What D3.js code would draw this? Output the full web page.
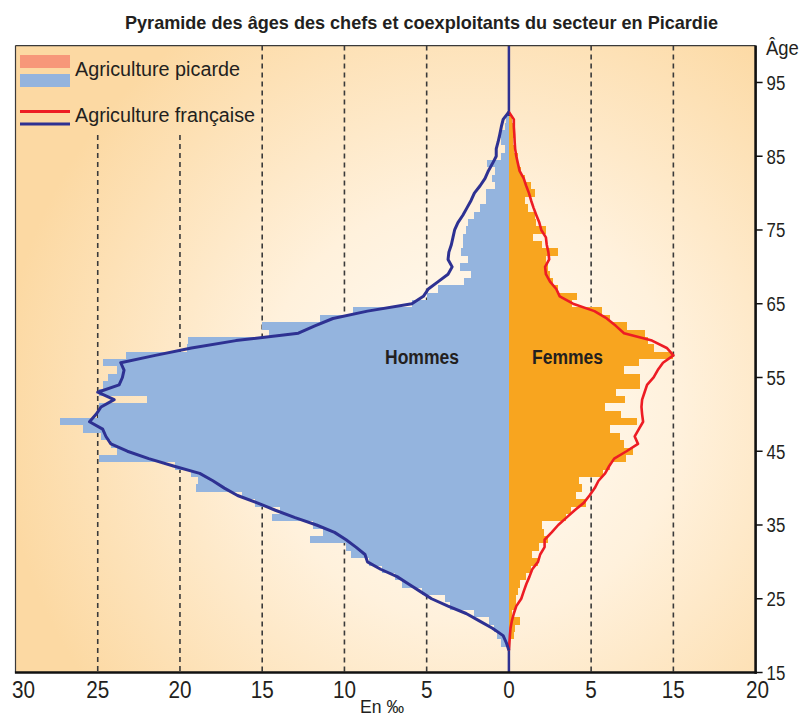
<!DOCTYPE html>
<html><head><meta charset="utf-8">
<script src="https://cdn.jsdelivr.net/npm/d3@7"></script>
<style>
body{margin:0;background:#fff;}
svg{display:block;}
text{font-family:"Liberation Sans",Arial,Helvetica,sans-serif;fill:#231f20;}
</style>
</head><body>
<svg id="chart" width="801" height="718"></svg>
<script>
// ---------- DATA ----------
const barAges = [19,20,21,22,23,24,25,26,27,28,29,30,31,32,33,34,35,36,37,38,39,40,41,42,43,44,45,46,47,48,49,50,51,52,53,54,55,56,57,58,59,60,61,62,63,64,65,66,67,68,69,70,71,72,73,74,75,76,77,78,79,80,81,82,83,84,85,86,87,88,89,90];
const hommesPicardie = [0.5,0.75,0.9,1.2,2.1,3.6,3.9,5.3,6.5,6.9,7.7,8.5,9.6,9.9,12.1,11.3,11.9,14.4,13.9,15.45,16.2,19.0,18.9,19.3,20.3,24.9,23.8,24.2,24.8,25.9,27.3,25.0,24.9,22.0,24.9,24.7,24.4,23.8,24.7,23.3,19.6,19.5,14.6,15.0,11.5,9.5,5.9,5.0,4.3,2.7,2.3,3.0,2.5,2.9,2.8,2.8,2.6,2.5,2.1,1.75,1.4,1.4,0.85,1.05,0.85,1.35,0.45,0.25,0.5,0.6,0.25,0.15];
const femmesPicardie = [0,0.3,0.35,0.65,0.2,0.45,0.45,0.55,0.7,1.06,1.36,1.77,1.4,1.83,2.4,2.13,2.0,3.49,3.8,4.71,4.06,4.47,4.24,5.72,6.13,7.15,7.55,6.98,6.78,6.17,7.8,6.84,5.83,7.05,6.5,7.95,7.95,6.98,7.9,9.99,8.83,8.46,8.3,7.2,6.13,5.68,3.86,4.16,2.98,2.68,2.5,2.37,2.23,3.0,2.03,1.46,2.28,1.67,1.56,1.16,0.96,1.6,1.36,1.0,0.75,0.55,0.55,0.3,0.25,0.3,0.25,0.2];

const lineAges = [18,19,20,21,22,23,24,25,26,27,28,29,30,31,32,33,34,35,36,37,38,39,40,41,42,43,44,45,46,47,48,49,50,51,52,53,54,55,56,57,58,59,60,61,62,63,64,65,66,67,68,69,70,71,72,73,74,75,76,77,78,79,80,81,82,83,84,85,86,87,88,89,90,91];
const hommesFrance = [0,0.15,0.35,1.0,1.8,2.6,3.7,4.7,5.4,6.1,6.8,7.8,8.6,8.75,9.3,9.9,10.6,11.7,13.0,14.2,15.3,16.5,17.3,18.0,18.8,20.4,21.9,23.2,24.2,24.5,24.7,25.5,25.1,24.8,24.0,25.0,23.7,23.5,23.4,23.6,21.5,19.3,16.6,12.8,11.8,10.7,8.6,5.9,5.2,4.9,4.3,3.7,3.45,3.7,3.65,3.5,3.4,3.3,3.1,2.8,2.55,2.3,2.1,1.75,1.45,1.25,1.0,0.77,0.77,0.65,0.55,0.46,0.35,0];
const femmesFrance = [0,0.03,0.06,0.1,0.18,0.3,0.45,0.75,0.9,1.06,1.25,1.42,1.77,1.9,2.17,2.17,2.6,3.0,3.5,4.0,4.55,4.9,5.22,5.45,5.85,6.1,6.4,7.15,7.85,7.65,7.9,8.16,8.1,8.06,8.1,8.25,8.4,8.8,9.05,9.37,10.0,9.6,8.7,7.0,6.5,5.95,5.2,3.9,3.09,2.88,2.5,2.25,2.2,2.45,2.4,2.3,2.25,1.97,1.85,1.67,1.5,1.35,1.22,1.05,0.9,0.65,0.55,0.45,0.38,0.35,0.33,0.3,0.3,0];

const xTickValues = [-30,-25,-20,-15,-10,-5,0,5,10,15];
const xTickLabels = ["30","25","20","15","10","5","0","5","15","20"];
const gridValues = [-25,-20,-15,-10,-5,5,10];
const ageTicks = [15,25,35,45,55,65,75,85,95];
const legendLabels = ["Agriculture picarde","Agriculture française"];
const titleText = "Pyramide des âges des chefs et coexploitants du secteur en Picardie";

// ---------- LAYOUT ----------
const svg = d3.select("#chart");
const P = {left:15.5, right:755.6, top:45.6, bottom:672.5};
const x = d3.scaleLinear().domain([-30,15]).range([P.left,P.right]);
const y = d3.scaleLinear().domain([15,100]).range([P.bottom,P.top]);
const C = {blue:"#94b4de", orange:"#f8a51f", salmon:"#f7977a", navy:"#2e3192", red:"#ed1c24"};

function fit(sel, w){ sel.attr("textLength", w).attr("lengthAdjust","spacingAndGlyphs"); }
function condense(sel, f){ sel.each(function(){ const w=this.getComputedTextLength(); d3.select(this).attr("textLength", w*f).attr("lengthAdjust","spacingAndGlyphs"); }); }

// background gradient
const defs = svg.append("defs");
const rg = defs.append("radialGradient").attr("id","bg").attr("gradientUnits","userSpaceOnUse")
  .attr("cx",470).attr("cy",410).attr("r",470).attr("fx",470).attr("fy",410);
rg.append("stop").attr("offset","0%").attr("stop-color","#fffcf6");
rg.append("stop").attr("offset","45%").attr("stop-color","#fff1dc");
rg.append("stop").attr("offset","100%").attr("stop-color","#fcd9a3");
svg.append("rect").attr("x",P.left).attr("y",P.top).attr("width",P.right-P.left).attr("height",P.bottom-P.top).attr("fill","url(#bg)");

// grid
const legendBottom = 135;
svg.append("g").selectAll("line").data(gridValues).join("line")
  .attr("x1",d=>x(d)).attr("x2",d=>x(d))
  .attr("y1",d=> d<=-20 ? legendBottom : P.top).attr("y2",P.bottom)
  .attr("stroke","#3a3a3a").attr("stroke-width",1.6).attr("stroke-dasharray","5,4");

// zero line
svg.append("line").attr("x1",x(0)).attr("x2",x(0)).attr("y1",P.top).attr("y2",P.bottom)
  .attr("stroke",C.navy).attr("stroke-width",2.5);

// bars
const barH = d=> y(d-0.5)-y(d+0.5);
svg.append("g").selectAll("rect").data(barAges).join("rect")
  .attr("x",(d,i)=>x(-hommesPicardie[i])).attr("width",(d,i)=>x(0)-x(-hommesPicardie[i]))
  .attr("y",d=>y(d+0.5)).attr("height",barH).attr("fill",C.blue).attr("shape-rendering","crispEdges");
svg.append("g").selectAll("rect").data(barAges).join("rect")
  .attr("x",x(0)).attr("width",(d,i)=>x(femmesPicardie[i])-x(0))
  .attr("y",d=>y(d+0.5)).attr("height",barH).attr("fill",C.orange).attr("shape-rendering","crispEdges");

// France lines
const lineM = d3.line().x((d,i)=>x(-hommesFrance[i])).y(d=>y(d));
const lineF = d3.line().x((d,i)=>x(femmesFrance[i])).y(d=>y(d));
svg.append("path").datum(lineAges).attr("d",lineF).attr("fill","none").attr("stroke",C.red).attr("stroke-width",2.6).attr("stroke-linejoin","round");
svg.append("path").datum(lineAges).attr("d",lineM).attr("fill","none").attr("stroke",C.navy).attr("stroke-width",3).attr("stroke-linejoin","round");

// frame
svg.append("line").attr("x1",P.left).attr("x2",P.left).attr("y1",P.top).attr("y2",P.bottom).attr("stroke","#3a3a3a").attr("stroke-width",1.2);
svg.append("line").attr("x1",P.left).attr("x2",P.right).attr("y1",P.top).attr("y2",P.top).attr("stroke","#3a3a3a").attr("stroke-width",1.2);
svg.append("line").attr("x1",P.right).attr("x2",P.right).attr("y1",P.top).attr("y2",P.bottom+1.2).attr("stroke","#111").attr("stroke-width",2.6);
svg.append("line").attr("x1",P.left-0.6).attr("x2",P.right+1.2).attr("y1",P.bottom).attr("y2",P.bottom).attr("stroke","#111").attr("stroke-width",2.6);

// right age axis
const ya = svg.append("g");
ya.selectAll("line").data(ageTicks).join("line")
  .attr("x1",P.right).attr("x2",P.right+7).attr("y1",d=>y(d)).attr("y2",d=>y(d)).attr("stroke","#111").attr("stroke-width",1.5);
ya.selectAll("text").data(ageTicks).join("text")
  .attr("x",P.right+11).attr("y",d=>y(d)+7.5).attr("font-size",20.5).text(d=>d)
  .call(condense,0.82);
svg.append("text").attr("x",766).attr("y",55).attr("font-size",20.5).text("Âge").call(condense,0.9);

// bottom axis labels
svg.append("g").selectAll("text").data(xTickValues).join("text")
  .attr("x",(d,i)=> x(d) + (i===0 ? 8 : (i===xTickValues.length-1 ? 2 : 0)))
  .attr("y",698).attr("text-anchor","middle").attr("font-size",23).text((d,i)=>xTickLabels[i])
  .call(condense,0.9);
svg.append("text").attr("x",382).attr("y",713).attr("text-anchor","middle").attr("font-size",19).text("En ‰").call(fit,44);

// title
svg.append("text").attr("x",421.5).attr("y",29).attr("text-anchor","middle").attr("font-size",19).attr("font-weight","bold").text(titleText).call(fit,593);

// legend
svg.append("rect").attr("x",20).attr("y",55).attr("width",50).attr("height",13).attr("fill",C.salmon);
svg.append("rect").attr("x",20).attr("y",74).attr("width",50).attr("height",13).attr("fill",C.blue);
svg.append("line").attr("x1",20).attr("x2",70).attr("y1",111.5).attr("y2",111.5).attr("stroke",C.red).attr("stroke-width",3);
svg.append("line").attr("x1",20).attr("x2",70).attr("y1",124).attr("y2",124).attr("stroke",C.navy).attr("stroke-width",3);
svg.append("text").attr("x",75).attr("y",76).attr("font-size",20).text(legendLabels[0]).call(fit,165);
svg.append("text").attr("x",75).attr("y",122).attr("font-size",20).text(legendLabels[1]).call(fit,180);

// labels
svg.append("text").attr("x",385).attr("y",364).attr("font-size",20).attr("font-weight","bold").text("Hommes").call(fit,74);
svg.append("text").attr("x",532).attr("y",364).attr("font-size",20).attr("font-weight","bold").text("Femmes").call(fit,71);
</script>
</body></html>
